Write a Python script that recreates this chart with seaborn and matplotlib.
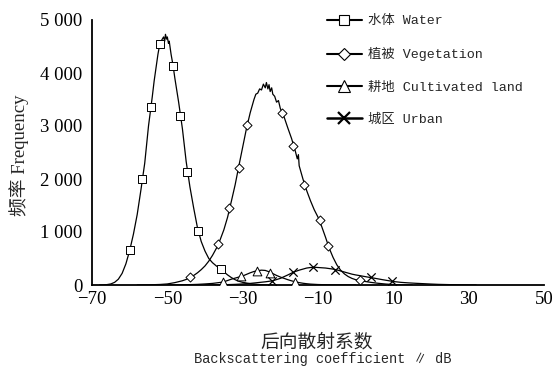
import numpy as np
import pandas as pd
import matplotlib
matplotlib.use("Agg")
import matplotlib.pyplot as plt
from matplotlib.lines import Line2D
import seaborn as sns

# ---------------- data ----------------
water_x = [-68, -67, -66, -65, -64, -63, -62, -61, -60, -59, -58, -57, -56, -55, -54,
           -53.5, -53, -52.5, -52, -51.5, -51, -50.7, -50.5, -50.2, -50, -49.7, -49.5,
           -49, -48.5, -48, -47, -46, -45, -44, -43, -42, -41, -40, -39, -38, -37, -36,
           -35, -34, -33, -32, -31, -30, -28, -26, -24, -22]
water_y = [0, 2, 8, 20, 50, 110, 220, 400, 650, 960, 1330, 1800, 2300, 3000, 3550,
           3850, 4100, 4350, 4550, 4620, 4680, 4600, 4730, 4640, 4680, 4560, 4600,
           4350, 4150, 3900, 3450, 2950, 2330, 1850, 1450, 1080, 820, 640, 500, 420, 360, 310,
           250, 190, 140, 100, 70, 50, 25, 10, 3, 0]

veg_x = [-58, -55, -52, -50, -48, -46, -45, -44, -43, -42, -41, -40, -39, -38, -37, -36,
         -35, -34, -33, -32, -31, -30, -29, -28, -27, -26.5, -26, -25.5, -25, -24.5, -24,
         -23.7, -23.3, -23, -22.7, -22.3, -22, -21.5, -21, -20.5, -20, -19, -18, -17, -16,
         -15.5, -15.2, -15, -14, -13, -12, -11, -10, -9, -8, -7, -6, -5, -4, -3, -2, -1,
         0, 2, 4, 6, 8, 10, 12, 15]
veg_y = [0, 3, 10, 20, 45, 80, 105, 140, 180, 230, 290, 360, 450, 560, 690, 850,
         1040, 1280, 1580, 1890, 2250, 2600, 2950, 3250, 3500, 3600, 3620, 3700, 3680, 3790, 3720,
         3820, 3700, 3780, 3650, 3720, 3600, 3560, 3450, 3480, 3330, 3170, 2960, 2760, 2520,
         2380, 2460, 2250, 2000, 1780, 1590, 1420, 1280, 1100, 900, 690, 520, 380, 280, 210, 160, 125,
         100, 72, 50, 32, 18, 9, 4, 0]

cult_x = [-50, -45, -42, -40, -38, -36, -35, -34, -33, -32, -31, -30, -29, -28, -27, -26,
          -25, -24, -23, -22, -21, -20, -19, -18, -17, -16, -15, -14, -13, -12, -10, -8, -5, 0]
cult_y = [0, 5, 12, 20, 30, 48, 60, 85, 110, 130, 150, 170, 200, 230, 255, 270,
          280, 275, 250, 215, 180, 150, 125, 100, 78, 60, 45, 33, 24, 17, 9, 5, 2, 0]

urban_x = [-40, -35, -32, -30, -28, -26, -24, -22, -20, -18, -17, -16, -15, -14, -13, -12,
           -11, -10, -9, -8, -7, -6, -5, -4, -3, -2, -1, 0, 1, 2, 3, 4, 5, 6, 7, 8, 9, 10,
           12, 14, 16, 18, 20, 22, 25, 28, 32]
urban_y = [0, 5, 12, 20, 30, 45, 60, 80, 125, 190, 225, 255, 280, 300, 320, 330,
           335, 330, 325, 320, 310, 300, 285, 265, 245, 225, 205, 190, 178, 165, 152, 140, 128,
           115, 102, 90, 78, 66, 50, 40, 32, 25, 18, 12, 7, 3, 0]

# marker samples
water_mx = [-59.9, -56.6, -54.4, -51.9, -48.5, -46.6, -44.7, -41.8, -35.7]
water_my = [660, 2000, 3360, 4540, 4140, 3180, 2140, 1020, 300]
veg_mx = [-43.9, -36.5, -33.6, -31.0, -28.8, -19.5, -16.7, -13.6, -9.6, -7.3, 1.1]
veg_my = [145, 770, 1450, 2210, 3020, 3250, 2620, 1890, 1225, 735, 94]
cult_mx = [-35.2, -30.4, -26.1, -22.7, -16.2]
cult_my = [57, 165, 270, 230, 65]
urban_mx = [-22.3, -16.6, -11.3, -5.5, 4.2, 9.6]
urban_my = [81, 250, 334, 290, 150, 70]

labels = ["水体 Water", "植被 Vegetation", "耕地 Cultivated land", "城区 Urban"]
x_ticks = [-70, -50, -30, -10, 10, 30, 50]
y_ticks = [0, 1000, 2000, 3000, 4000, 5000]
y_ticklabels = ["0", "1 000", "2 000", "3 000", "4 000", "5 000"]

# ---------------- build frames ----------------
curves = pd.concat([
    pd.DataFrame({"x": water_x, "y": water_y, "cls": labels[0]}),
    pd.DataFrame({"x": veg_x, "y": veg_y, "cls": labels[1]}),
    pd.DataFrame({"x": cult_x, "y": cult_y, "cls": labels[2]}),
    pd.DataFrame({"x": urban_x, "y": urban_y, "cls": labels[3]}),
], ignore_index=True)
marks = pd.concat([
    pd.DataFrame({"x": water_mx, "y": water_my, "cls": labels[0]}),
    pd.DataFrame({"x": veg_mx, "y": veg_my, "cls": labels[1]}),
    pd.DataFrame({"x": cult_mx, "y": cult_my, "cls": labels[2]}),
    pd.DataFrame({"x": urban_mx, "y": urban_my, "cls": labels[3]}),
], ignore_index=True)

sns.set_style("white")
SERIF = ["Liberation Serif", "Noto Sans CJK SC"]
MONO = ["Liberation Mono", "Noto Sans CJK SC"]
plt.rcParams["font.family"] = SERIF

fig = plt.figure(figsize=(5.55, 3.67), dpi=100)
ax = fig.add_axes([92 / 555, 1 - 285 / 367, (544 - 92) / 555, (285 - 20) / 367])

black = {l: "black" for l in labels}
sns.lineplot(data=curves, x="x", y="y", hue="cls", palette=black, sort=False,
             estimator=None, linewidth=0.9, legend=False, ax=ax)

mk = {labels[0]: "s", labels[1]: "D", labels[2]: "^", labels[3]: "x"}
sizes = {labels[0]: 6.3, labels[1]: 4.6, labels[2]: 6.3, labels[3]: 6.0}
for lab in labels:
    sub = marks[marks["cls"] == lab]
    if mk[lab] == "x":
        sns.scatterplot(data=sub, x="x", y="y", marker="x", color="black",
                        s=sizes[lab] ** 2, linewidth=0.9, legend=False, ax=ax, zorder=5)
    else:
        sns.scatterplot(data=sub, x="x", y="y", marker=mk[lab], facecolor="white",
                        edgecolor="black", s=sizes[lab] ** 2, linewidth=0.7,
                        legend=False, ax=ax, zorder=5)

ax.set_xlim(-70, 50)
ax.set_ylim(0, 5000)
ax.set_xticks(x_ticks)
ax.set_yticks(y_ticks)
ax.set_yticklabels(y_ticklabels)
for s in ["top", "right"]:
    ax.spines[s].set_visible(False)
for s in ["left", "bottom"]:
    ax.spines[s].set_color("black")
    ax.spines[s].set_linewidth(1.3)
ax.tick_params(direction="in", length=5, width=1.2, colors="black",
               labelsize=13.5, pad=2)
ax.tick_params(axis="x", pad=4.5)
ax.tick_params(axis="y", pad=7)
ax.set_xlabel("")
ax.set_ylabel("频率 Frequency", fontsize=13.5, labelpad=6)
ax.yaxis.set_label_coords(-0.14, 0.49)

fig.text(317 / 555, 1 - 343 / 367, "后向散射系数", ha="center", va="center",
         fontsize=13.5, family=SERIF)
fig.text(323 / 555, 1 - 359 / 367, "Backscattering coefficient ∥ dB", ha="center",
         va="center", fontsize=9.8, family=MONO)

handles = [
    Line2D([], [], color="black", lw=1.5, marker="s", ms=7.5, mfc="white", mec="black", mew=0.8),
    Line2D([], [], color="black", lw=1.5, marker="D", ms=6.5, mfc="white", mec="black", mew=0.8),
    Line2D([], [], color="black", lw=1.5, marker="^", ms=8, mfc="white", mec="black", mew=0.8),
    Line2D([], [], color="black", lw=1.8, marker="x", ms=9, mec="black", mew=1.6),
]
leg = fig.legend(handles, labels, loc="upper left", bbox_to_anchor=(327 / 555, 1 - 15 / 367),
                 frameon=False, prop={"family": MONO, "size": 9.6}, handlelength=2.6,
                 handletextpad=0.5, labelspacing=1.5, borderpad=0, borderaxespad=0)

fig.savefig("out.png", dpi=100)
